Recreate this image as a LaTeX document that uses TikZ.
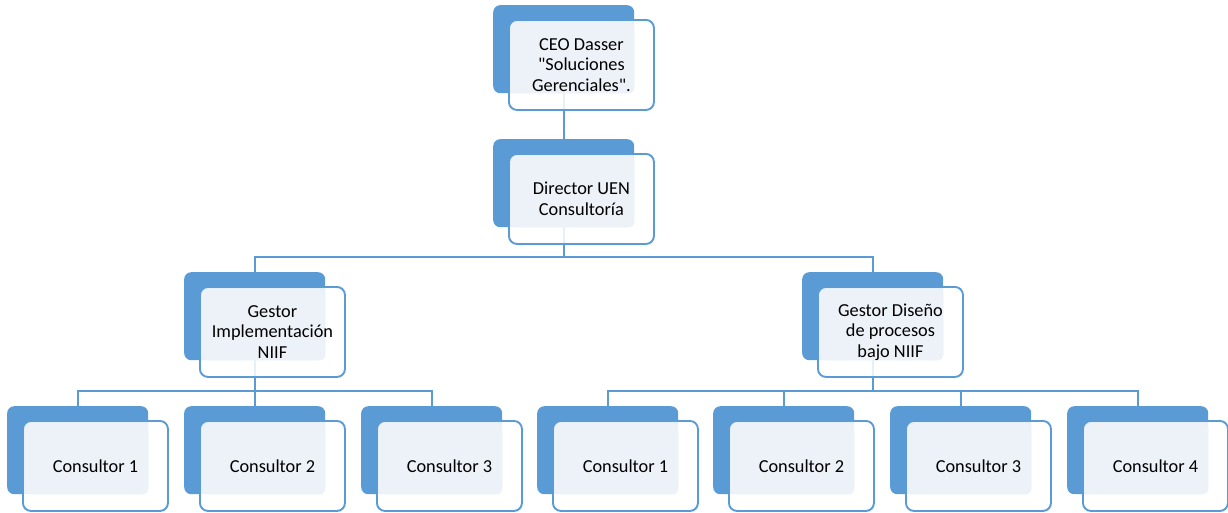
\documentclass[tikz,border=0pt]{standalone}
\usepackage{fontspec}
\newfontfamily\orgfont{Carlito}
\usetikzlibrary{positioning}
\usetikzlibrary{backgrounds}

\definecolor{orgblue}{HTML}{5B9BD5}
\definecolor{orglight}{HTML}{EDF2F9}

\tikzset{
  backbox/.style={fill=orgblue, rounded corners=7pt, minimum width=141pt,
    minimum height=88pt, inner sep=0pt, anchor=north west},
  frontbox/.style={fill=white, fill opacity=0.85, draw=orgblue, line width=1.9pt,
    rounded corners=8pt, minimum width=145pt, minimum height=90pt,
    inner sep=0pt, anchor=north west},
  lightfill/.style={fill=orglight, rounded corners=6pt},
  boxtext/.style={align=center, inner sep=0pt,
    font=\orgfont\fontsize{18.3}{20.5}\selectfont},
  link/.style={draw=orgblue, line width=2pt}
}

% one box of the chart: name, x, y (top left of the dark box), text
\newcommand{\orgbox}[4]{%
  \node[backbox] (#1-back) at (#2,#3) {};
  \node[frontbox] (#1-front) at ([shift={(15,14)}]#1-back.north west) {};
  \fill[lightfill] ([shift={(3,3)}]#1-front.north west) rectangle (#1-back.south east);
  \node[boxtext] (#1) at (#1-front.center) {#4};
}

\begin{document}
\begin{tikzpicture}[x=1pt, y=-1pt]
    \useasboundingbox (0,0) rectangle (1228,512);

    \orgbox{ceo}{493}{5}{CEO Dasser\\"Soluciones\\Gerenciales".}
    \orgbox{dir}{493}{139}{Director UEN\\Consultoría}
    \orgbox{gimp}{184}{272}{Gestor\\Implementación\\NIIF}
    \orgbox{gdis}{802}{272}{Gestor Diseño\\de procesos\\bajo NIIF}

    \foreach \i/\x in {1/7, 2/184, 3/361}
        \orgbox{lc\i}{\x}{406}{Consultor \i};
    \foreach \i/\x in {1/537, 2/713, 3/890, 4/1067}
        \orgbox{rc\i}{\x}{406}{Consultor \i};

    \begin{pgfonlayer}{background}
        \draw[link] (ceo-back.south) -- (dir-back.north);
        \draw[link] (dir-back.south) -- ++(0,30) -| (gimp-back.north);
        \draw[link] (dir-back.south) -- ++(0,30) -| (gdis-back.north);
        \foreach \i in {1,2,3}
            \draw[link] (gimp-back.south) -- ++(0,31) -| (lc\i-back.north);
        \foreach \i in {1,2,3,4}
            \draw[link] (gdis-back.south) -- ++(0,31) -| (rc\i-back.north);
    \end{pgfonlayer}
\end{tikzpicture}
\end{document}
